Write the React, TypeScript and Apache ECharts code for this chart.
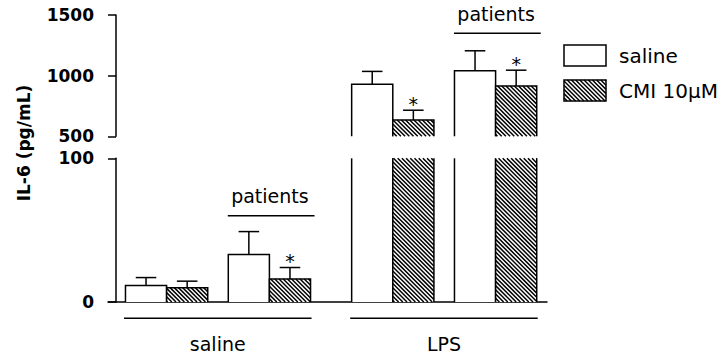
import React, { useEffect, useRef } from 'react';
import * as echarts from 'echarts';

// ---------------- data ----------------
const groupNames = ['saline', 'saline patients', 'LPS', 'LPS patients'];
const stimulusLabels = ['saline', 'LPS'];
const seriesNames = ['saline', 'CMI 10μM'];
const salineMean = [11.5, 33, 930, 1040];
const salineSem = [5.5, 16, 105, 165];
const cmiMean = [10, 16, 635, 915];
const cmiSem = [4.5, 8, 80, 130];
const cmiSignificant = [false, true, true, true];
const patientGroups = [1, 3];
const lowerTicks = [0, 100];
const upperTicks = [500, 1000, 1500];
const yAxisTitle = 'IL-6 (pg/mL)';
const patientsLabel = 'patients';

// ---------------- layout ----------------
const GROUP_X = [1, 2, 3.2, 4.2];
const BAR_W = 0.4;
const X_MIN = 0.43;
const X_MAX = 4.7;
const BRACKET_LEVEL = [60, 1350];
const FONT = '"DejaVu Sans", "Liberation Sans", sans-serif';
const LW = 1.5;

const stroke = { stroke: '#000', lineWidth: LW, fill: 'none' };

function seg(x1: number, y1: number, x2: number, y2: number, lw = LW) {
  return { type: 'line', shape: { x1, y1, x2, y2 }, style: { stroke: '#000', lineWidth: lw, fill: 'none' } };
}

function hatchLines(x0: number, y0: number, w: number, h: number, step = 4.2) {
  const out: any[] = [];
  const kMin = y0 - (x0 + w);
  const kMax = y0 + h - x0;
  for (let n = Math.ceil(kMin / step); n * step <= kMax; n++) {
    const k = n * step;
    const xs = Math.max(x0, y0 - k);
    const xe = Math.min(x0 + w, y0 + h - k);
    if (xe - xs > 0.3) out.push(seg(xs, xs + k, xe, xe + k, 1.5));
  }
  return out;
}

const barRows = groupNames.flatMap((_, g) => [
  [GROUP_X[g], salineMean[g], salineSem[g], 0, 0, g],
  [GROUP_X[g], cmiMean[g], cmiSem[g], 1, cmiSignificant[g] ? 1 : 0, g],
]);
const LOWER_MIN = lowerTicks[0];
const LOWER_MAX = lowerTicks[lowerTicks.length - 1];
const UPPER_MIN = upperTicks[0];
const UPPER_MAX = upperTicks[upperTicks.length - 1];
const upperRows = barRows.filter((r) => r[1] > UPPER_MIN);

const makeBarRenderer = (panel: 'lower' | 'upper') => (params: any, api: any) => {
  const gx = api.value(0);
  const mean = api.value(1);
  const sem = api.value(2);
  const t = api.value(3);
  const sig = api.value(4);
  const bw = api.size([BAR_W, 0])[0];
  const bottomVal = panel === 'lower' ? LOWER_MIN : UPPER_MIN;
  const base = api.coord([gx, bottomVal]);
  const cx = base[0];
  const yBase = base[1];
  const xl = t === 0 ? cx - bw : cx;
  const xr = xl + bw;
  const broken = panel === 'lower' && mean > LOWER_MAX;
  const yTop = api.coord([gx, broken ? LOWER_MAX : mean])[1];
  const children: any[] = [];
  children.push({ type: 'rect', shape: { x: xl, y: yTop, width: bw, height: yBase - yTop }, style: { fill: '#fff', stroke: 'none' } });
  if (t === 1) children.push(...hatchLines(xl, yTop, bw, yBase - yTop));
  if (broken) {
    children.push(seg(xl, yBase, xl, yTop), seg(xr, yBase, xr, yTop));
  } else {
    children.push({ type: 'polyline', shape: { points: [[xl, yBase], [xl, yTop], [xr, yTop], [xr, yBase]] }, style: { ...stroke } });
    const bc = (xl + xr) / 2;
    const yErr = api.coord([gx, mean + sem])[1];
    children.push(seg(bc, yTop, bc, yErr), seg(bc - bw / 4, yErr, bc + bw / 4, yErr));
    if (sig) {
      children.push({
        type: 'text',
        style: { text: '*', x: bc, y: yErr - 6.5, fill: '#000', fontSize: 19, fontFamily: FONT, align: 'center', verticalAlign: 'middle', textAlign: 'center', textVerticalAlign: 'middle' },
      });
    }
  }
  return { type: 'group', children };
};

const patientsRenderer = (params: any, api: any) => {
  const p = api.coord([api.value(0), api.value(1)]);
  const bw = api.size([BAR_W, 0])[0];
  return {
    type: 'group',
    children: [
      seg(p[0] - bw - 0.5, p[1], p[0] + bw + 4, p[1]),
      {
        type: 'text',
        style: { text: patientsLabel, x: p[0] + 0.5, y: p[1] - 19.5, fill: '#000', fontSize: 19, fontFamily: FONT, align: 'center', verticalAlign: 'middle', textAlign: 'center', textVerticalAlign: 'middle' },
      },
    ],
  };
};

const stimulusRenderer = (params: any, api: any) => {
  const a = api.coord([api.value(0), LOWER_MIN]);
  const b = api.coord([api.value(1), LOWER_MIN]);
  const bw = api.size([BAR_W, 0])[0];
  const xl = a[0] - bw - 1.5;
  const xr = b[0] + bw + 1;
  const y = a[1] + 16.3;
  return {
    type: 'group',
    children: [
      seg(xl, y, xr, y),
      {
        type: 'text',
        style: { text: stimulusLabels[api.value(2)], x: (xl + xr) / 2, y: y + 25.5, fill: '#000', fontSize: 19, fontFamily: FONT, align: 'center', verticalAlign: 'middle', textAlign: 'center', textVerticalAlign: 'middle' },
      },
    ],
  };
};

const axisCommon = {
  type: 'value' as const,
  offset: -8,
  axisLine: { show: true, lineStyle: { color: '#000', width: LW } },
  axisTick: { show: true, length: 8, inside: false, lineStyle: { color: '#000', width: LW } },
  axisLabel: { color: '#000', fontFamily: FONT, fontSize: 17, fontWeight: 'bold' as const, margin: 22, formatter: (v: number) => String(v) },
  splitLine: { show: false },
};

const legendBoxX = 564;
const legendBoxW = 42;
const legendBoxH = 21;
const legendY = [45, 80];

const option: any = {
  animation: false,
  backgroundColor: '#fff',
  grid: [
    { left: 108, right: 180, top: 15, height: 121.3 },
    { left: 108, right: 180, top: 158.3, height: 143.7 },
  ],
  xAxis: [
    { gridIndex: 0, type: 'value', min: X_MIN, max: X_MAX, show: false },
    {
      gridIndex: 1, type: 'value', min: X_MIN, max: X_MAX,
      axisLine: { show: true, lineStyle: { color: '#000', width: LW } },
      axisTick: { show: false }, axisLabel: { show: false }, splitLine: { show: false },
    },
  ],
  yAxis: [
    { ...axisCommon, gridIndex: 0, min: UPPER_MIN, max: UPPER_MAX, interval: upperTicks[1] - upperTicks[0] },
    { ...axisCommon, gridIndex: 1, min: LOWER_MIN, max: LOWER_MAX, interval: LOWER_MAX - LOWER_MIN },
  ],
  series: [
    {
      type: 'custom', name: 'bars-lower', xAxisIndex: 1, yAxisIndex: 1, clip: false,
      renderItem: makeBarRenderer('lower'), encode: { x: 0, y: 1 }, data: barRows, z: 2,
    },
    {
      type: 'custom', name: 'bars-upper', xAxisIndex: 0, yAxisIndex: 0, clip: false,
      renderItem: makeBarRenderer('upper'), encode: { x: 0, y: 1 }, data: upperRows, z: 2,
    },
    {
      type: 'custom', name: 'patients-lower', xAxisIndex: 1, yAxisIndex: 1, clip: false,
      renderItem: patientsRenderer, encode: { x: 0, y: 1 },
      data: [[GROUP_X[patientGroups[0]], BRACKET_LEVEL[0]]], z: 3,
    },
    {
      type: 'custom', name: 'patients-upper', xAxisIndex: 0, yAxisIndex: 0, clip: false,
      renderItem: patientsRenderer, encode: { x: 0, y: 1 },
      data: [[GROUP_X[patientGroups[1]], BRACKET_LEVEL[1]]], z: 3,
    },
    {
      type: 'custom', name: 'stimulus', xAxisIndex: 1, yAxisIndex: 1, clip: false,
      renderItem: stimulusRenderer, encode: { x: [0, 1] },
      data: [[GROUP_X[0], GROUP_X[1], 0], [GROUP_X[2], GROUP_X[3], 1]], z: 3,
    },
  ],
  graphic: [
    {
      type: 'text', x: 24, y: 143, rotation: Math.PI / 2,
      style: { text: yAxisTitle, fill: '#000', fontSize: 17, fontWeight: 'bold', fontFamily: FONT, align: 'center', verticalAlign: 'middle', textAlign: 'center', textVerticalAlign: 'middle' },
    },
    { type: 'rect', shape: { x: legendBoxX, y: legendY[0], width: legendBoxW, height: legendBoxH }, style: { fill: '#fff', stroke: '#000', lineWidth: LW } },
    { type: 'rect', shape: { x: legendBoxX, y: legendY[1], width: legendBoxW, height: legendBoxH }, style: { fill: '#fff', stroke: 'none' } },
    ...hatchLines(legendBoxX, legendY[1], legendBoxW, legendBoxH),
    { type: 'rect', shape: { x: legendBoxX, y: legendY[1], width: legendBoxW, height: legendBoxH }, style: { fill: 'none', stroke: '#000', lineWidth: LW } },
    ...seriesNames.map((name, i) => ({
      type: 'text',
      style: { text: name, x: legendBoxX + legendBoxW + 13, y: legendY[i] + legendBoxH / 2, fill: '#000', fontSize: 20, fontFamily: FONT, align: 'left', verticalAlign: 'middle', textAlign: 'left', textVerticalAlign: 'middle' },
    })),
  ],
};

export default function App() {
  const ref = useRef<HTMLDivElement>(null);
  useEffect(() => {
    const chart = echarts.init(ref.current as HTMLDivElement, null, { renderer: 'svg' });
    chart.setOption(option);
    return () => chart.dispose();
  }, []);
  return <div ref={ref} style={{ position: 'fixed', left: 0, top: 0, width: 727, height: 360 }} />;
}
